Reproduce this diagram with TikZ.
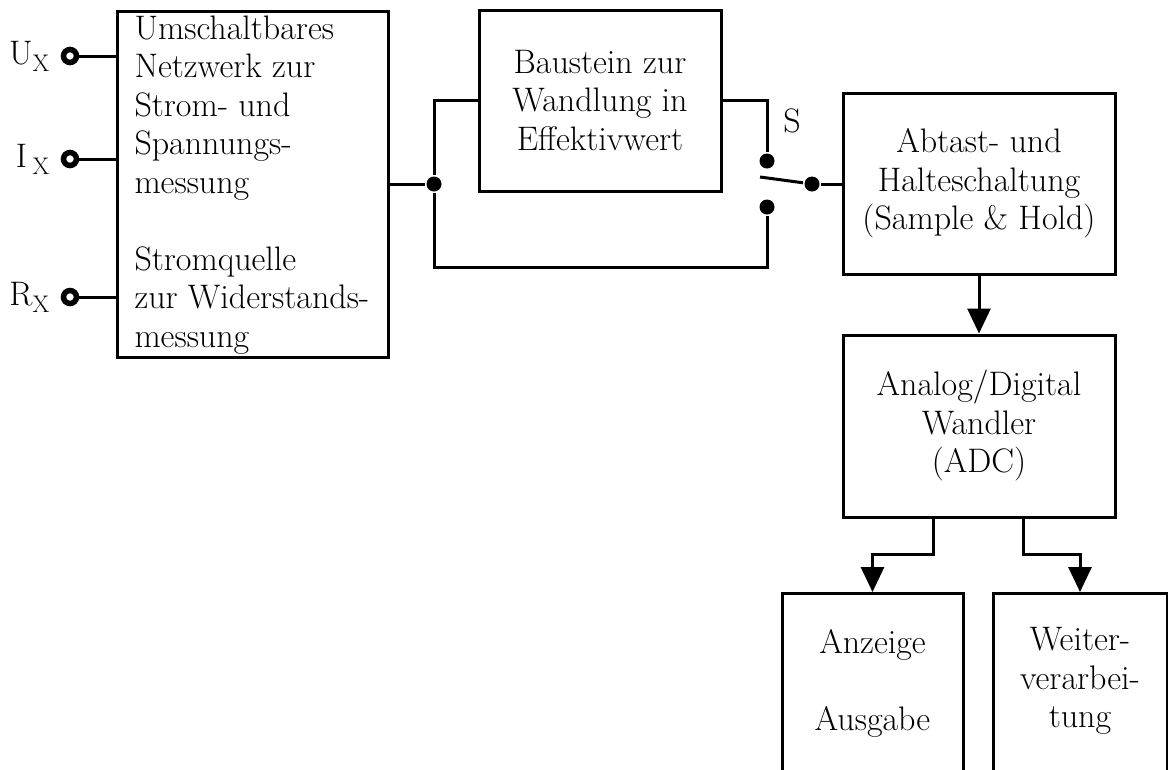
\documentclass[tikz,border=0pt]{standalone}
\usepackage{fontspec}
\usetikzlibrary{arrows.meta}

\begin{document}
\begin{tikzpicture}[x=1pt, y=-1pt, line width=3pt,
    font=\fontsize{34}{38.5}\selectfont,
    blk/.style={draw, rectangle, inner sep=0pt, align=center},
    term/.style={draw, circle, line width=5.5pt, inner sep=0pt, minimum size=13pt, fill=white},
    dot/.style={circle, fill, inner sep=0pt, minimum size=15pt},
    lbl/.style={inner sep=0pt, align=center},
    arr/.style={-{Triangle[length=25pt,width=23pt]}}]

    \clip (0,0) rectangle (1168,769);

    % Eingangsnetzwerk
    \node[blk, minimum width=271pt, minimum height=346pt] (net) at (252.5,184) {};
    \node[lbl, anchor=west, align=left] (nettxt) at (133,185)
        {Umschaltbares\\Netzwerk zur\\Strom- und\\Spannungs-\\messung\\[38.5pt]Stromquelle\\zur Widerstands-\\messung};

    \node[term] (u) at (70,56) {};
    \node[term] (i) at (70,159) {};
    \node[term] (r) at (70,297) {};
    \node[lbl, anchor=base east] (ulbl) at ([xshift=-10pt, yshift=-8pt]u.west) {U\raisebox{-7pt}{\fontsize{24}{24}\selectfont X}};
    \node[lbl, anchor=base east] (ilbl) at ([xshift=-10pt, yshift=-8pt]i.west) {I\,\raisebox{-7pt}{\fontsize{24}{24}\selectfont X}};
    \node[lbl, anchor=base east] (rlbl) at ([xshift=-10pt, yshift=-8pt]r.west) {R\raisebox{-7pt}{\fontsize{24}{24}\selectfont X}};

    \draw (u) -- (u -| net.west);
    \draw (i) -- (i -| net.west);
    \draw (r) -- (r -| net.west);

    % Effektivwert und Umschalter
    \node[blk, minimum width=242pt, minimum height=181pt] (eff) at (600,100.5) {Baustein zur\\Wandlung in\\Effektivwert};

    \node[dot] (j) at (434,184) {};
    \node[dot] (c1) at (767,161) {};
    \node[dot] (c2) at (767,207) {};
    \node[dot] (p) at (812,184) {};
    \coordinate (tip) at (760,177);
    \coordinate (low) at (767,267);
    \node[lbl] (slbl) at (792,121) {S};

    \draw (net.east |- j) -- (j);
    \draw (j) |- (eff.west);
    \draw (j) |- (low) -- (c2);
    \draw (eff.east) -| (c1);
    \draw (p) -- (tip);

    % Abtastung und Wandlung
    \node[blk, minimum width=272pt, minimum height=181pt] (sh) at (979,183.5) {Abtast- und\\Halteschaltung\\(Sample \& Hold)};
    \node[blk, minimum width=272pt, minimum height=182pt] (adc) at (979,426) {Analog/Digital\\Wandler\\(ADC)};

    \draw (p) -- (p -| sh.west);
    \draw[arr] (sh) -- (adc);

    % Ausgabe
    \node[blk, minimum width=181pt, minimum height=200pt, anchor=north] (anz) at (872.5,592) {};
    \node[blk, minimum width=174pt, minimum height=200pt, anchor=north] (wv) at (1080,592) {};
    \node[lbl] (anztxt) at (872.5,683) {Anzeige\\[38.5pt]Ausgabe};
    \node[lbl] (wvtxt) at (1080,681) {Weiter-\\verarbei-\\tung};

    \draw[arr] ([xshift=-46pt]adc.south) -- ++(0,36) -| (anz);
    \draw[arr] ([xshift=44pt]adc.south) -- ++(0,36) -| (wv);
\end{tikzpicture}
\end{document}
